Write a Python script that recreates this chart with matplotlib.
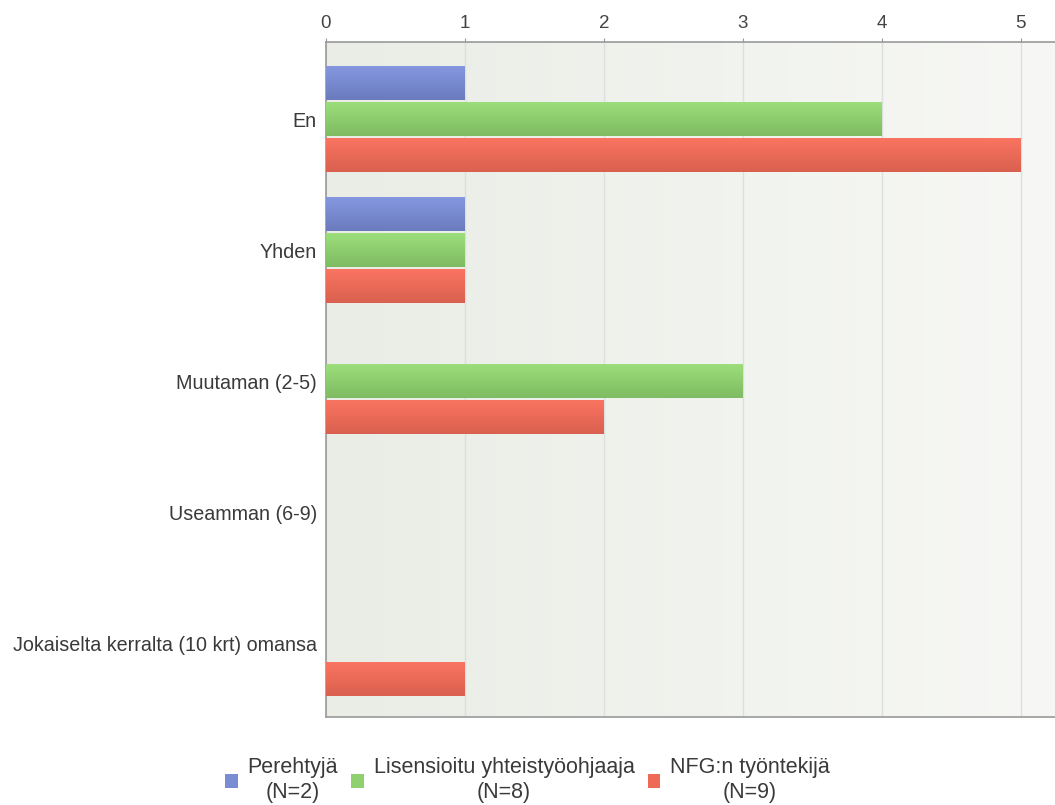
import numpy as np
import matplotlib.pyplot as plt
from matplotlib.colors import LinearSegmentedColormap
from matplotlib.patches import Patch

plt.rcParams['font.family'] = ['Liberation Sans', 'DejaVu Sans']

categories = ['En', 'Yhden', 'Muutaman (2-5)', 'Useamman (6-9)',
              'Jokaiselta kerralta (10 krt) omansa']
series = ['Perehtyjä\n(N=2)', 'Lisensioitu yhteistyöohjaaja\n(N=8)',
          'NFG:n työntekijä\n(N=9)']
perehtyja = [1, 1, 0, 0, 0]
lisensioitu = [4, 1, 3, 0, 0]
nfg = [5, 1, 2, 0, 1]
values = [perehtyja, lisensioitu, nfg]

# top / bottom shades of the bar gradients
tops = ['#8598e0', '#9ddf7c', '#fb7561']
bottoms = ['#6b7bbd', '#7fbb62', '#d9604f']
mids = ['#7a8cd4', '#8fd06f', '#ee6a57']

fig = plt.figure(figsize=(10.55, 8.05), dpi=100)
ax = fig.add_axes([0.309, 0.1093, 0.691, 0.8385])

xmax = 5.245
ymin, ymax = -0.588, 4.565
ax.set_xlim(0, xmax)
ax.set_ylim(ymax, ymin)

# plot background gradient
bg = LinearSegmentedColormap.from_list('bg', ['#eaede6', '#f7f8f5'])
ax.imshow(np.linspace(0, 1, 256).reshape(1, -1), cmap=bg, aspect='auto',
          extent=[0, xmax, ymax, ymin], zorder=0)

y = np.arange(len(categories))
h = 0.26
step = 0.275
for i, vals in enumerate(values):
    bars = ax.barh(y + (i - 1) * step, vals, height=h, color=mids[i],
                   edgecolor='none', zorder=3)
    cmap = LinearSegmentedColormap.from_list('g%d' % i, [tops[i], bottoms[i]])
    for b, v in zip(bars, vals):
        if v <= 0:
            continue
        x0, y0 = b.get_x(), b.get_y()
        im = ax.imshow(np.linspace(0, 1, 64).reshape(-1, 1), cmap=cmap,
                       aspect='auto', zorder=4,
                       extent=[x0, x0 + b.get_width(), y0 + b.get_height(), y0])
        im.set_clip_path(b)

ax.set_xticks(range(6))
ax.xaxis.tick_top()
ax.tick_params(axis='x', colors='#999999', labelcolor='#444444', length=3,
               labelsize=13.5, pad=4)
ax.set_yticks(y)
ax.set_yticklabels(categories)
ax.tick_params(axis='y', length=0, labelsize=14.2, labelcolor='#3a3a3a', pad=6.5)
ax.grid(axis='x', color='#dcdfdc', linewidth=1, zorder=1)
ax.set_axisbelow(True)
for s in ['left', 'top', 'bottom']:
    ax.spines[s].set_color('#999999')
    ax.spines[s].set_linewidth(1.2)
ax.spines['right'].set_visible(False)

handles = [Patch(facecolor=mids[i], edgecolor='none') for i in range(3)]
leg = fig.legend(handles, series, loc='lower center', ncol=3, frameon=False,
                 bbox_to_anchor=(0.5, -0.022), fontsize=15.5, handlelength=0.6,
                 handleheight=0.6, handletextpad=0.45, columnspacing=0.6,
                 labelspacing=0.2)
for t in leg.get_texts():
    t.set_multialignment('center')
    t.set_color('#3a3a3a')
    t.set_linespacing(1.25)

fig.savefig('out.png', dpi=100)
